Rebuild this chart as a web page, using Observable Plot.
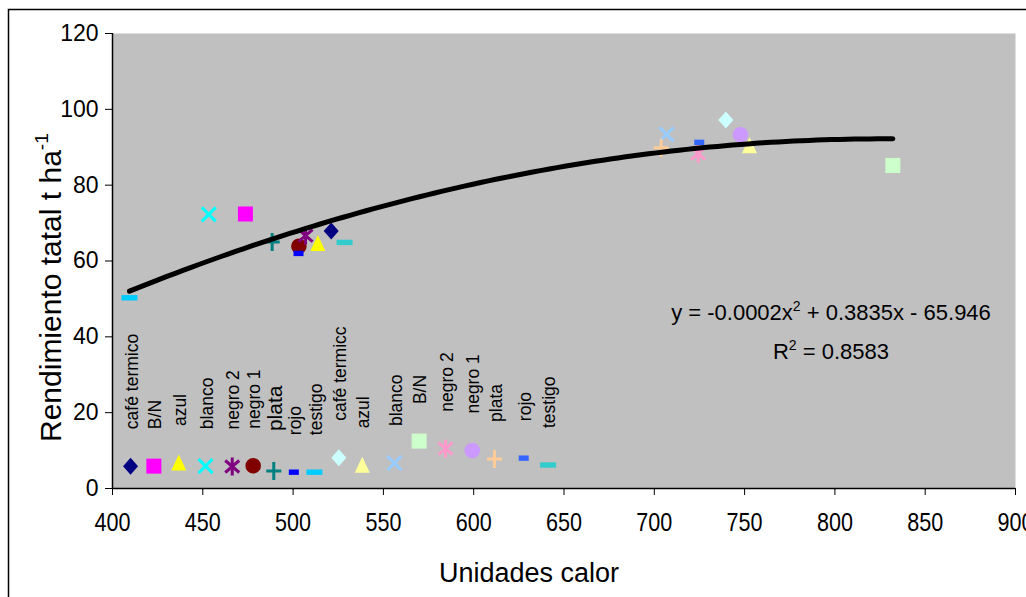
<!DOCTYPE html>
<html>
<head>
<meta charset="utf-8">
<script src="https://cdn.jsdelivr.net/npm/d3@7"></script>
<script src="https://cdn.jsdelivr.net/npm/@observablehq/plot@0.6"></script>
<style>
html,body{margin:0;padding:0;background:#fff;}
#chart{width:1026px;height:597px;overflow:hidden;}
</style>
</head>
<body>
<div id="chart"></div>
<script>
// ---- data ----
const seriesNames = ["café termico","B/N","azul","blanco","negro 2","negro 1","plata","rojo","testigo",
                     "café termicc","azul","blanco","B/N","negro 2","negro 1","plata","rojo","testigo"];
const seriesSymbols = ["diamond","square","triangle","times","asterisk","circle","plus","dashShort","dashLong",
                       "diamond","triangle","times","square","asterisk","circle","plus","dashShort","dashLong"];
const seriesColors = ["#000080","#FF00FF","#FFFF00","#00FFFF","#800080","#800000","#008080","#0000FF","#00CCFF",
                      "#CCFFFF","#FFFF99","#99CCFF","#CCFFCC","#FF99CC","#CC99FF","#FFCC99","#3366FF","#33CCCC"];
// Unidades calor and Rendimiento of each treatment
const heatUnits  = [521.1, 473.6, 513.7, 453.3, 506.9, 503.2, 488.4, 503.0, 409.4,
                    739.6, 752.7, 706.8, 832.1, 724.3, 747.7, 703.8, 724.9, 528.5];
const totalYield = [67.9, 72.4, 64.6, 72.3, 66.7, 63.9, 65.0, 62.0, 50.3,
                    97.2, 90.4, 93.4, 85.2, 88.3, 93.3, 89.9, 91.3, 64.9];
// key markers (with their labels) drawn near the bottom
const keyHeatUnits = [410.0, 422.9, 436.7, 451.5, 466.3, 477.9, 489.3, 500.4, 511.8,
                      525.3, 538.3, 556.1, 569.8, 584.4, 599.2, 611.5, 627.7, 641.2];
const keyYield     = [5.9, 5.9, 6.7, 5.9, 5.8, 6.0, 4.6, 4.3, 4.3,
                      8.1, 6.1, 6.7, 12.5, 10.5, 10.0, 7.8, 8.0, 6.2];
const xTicks = [400, 450, 500, 550, 600, 650, 700, 750, 800, 850, 900];
const yTicks = [0, 20, 40, 60, 80, 100, 120];
const xTitle = "Unidades calor";
const yTitle = "Rendimiento tatal t ha";
const yTitleSup = "-1";
const eqParts = ["y = -0.0002x", "2", " + 0.3835x - 65.946"];
const r2Parts = ["R", "2", " = 0.8583"];

// ---- marker shapes (Excel style) ----
const symbolDefs = {
  diamond:  {fill: true,  draw(c){c.moveTo(0,-8.5);c.lineTo(7.5,0);c.lineTo(0,8.5);c.lineTo(-7.5,0);c.closePath();}},
  square:   {fill: true,  draw(c){c.rect(-7.5,-7.5,15,15);}},
  triangle: {fill: true,  draw(c){c.moveTo(0,-8.5);c.lineTo(7.5,7.5);c.lineTo(-7.5,7.5);c.closePath();}},
  circle:   {fill: true,  draw(c){c.moveTo(7.8,0);c.arc(0,0,7.8,0,2*Math.PI);c.closePath();}},
  times:    {fill: false, draw(c){c.moveTo(-7,-7);c.lineTo(7,7);c.moveTo(7,-7);c.lineTo(-7,7);}},
  asterisk: {fill: false, draw(c){c.moveTo(-7,-6);c.lineTo(7,6);c.moveTo(7,-6);c.lineTo(-7,6);c.moveTo(0,-9);c.lineTo(0,9);}},
  plus:     {fill: false, draw(c){c.moveTo(-7.5,0);c.lineTo(7.5,0);c.moveTo(0,-9);c.lineTo(0,9);}},
  dashShort:{fill: true,  draw(c){c.rect(-5,-2.7,10,5.4);}},
  dashLong: {fill: true,  draw(c){c.rect(-8,-2.7,16,5.4);}}
};

const mainRows = seriesNames.map((name, i) => ({name, sym: seriesSymbols[i], color: seriesColors[i], x: heatUnits[i], y: totalYield[i]}));
const keyRows  = seriesNames.map((name, i) => ({name, sym: seriesSymbols[i], color: seriesColors[i], x: keyHeatUnits[i], y: keyYield[i], idx: i}));
const allRows = mainRows.concat(keyRows);

// ---- quadratic least-squares trendline over the main points ----
function quadFit(xs, ys) {
  const x0 = d3.mean(xs);
  const S = [0,0,0,0,0], T = [0,0,0];
  xs.forEach((xv, i) => {
    const u = (xv - x0) / 100, y = ys[i];
    let p = 1;
    for (let k = 0; k < 5; k++) { S[k] += p; if (k < 3) T[k] += p * y; p *= u; }
  });
  const M = [[S[4],S[3],S[2],T[2]],[S[3],S[2],S[1],T[1]],[S[2],S[1],S[0],T[0]]];
  for (let i = 0; i < 3; i++) {
    for (let j = i + 1; j < 3; j++) {
      const f = M[j][i] / M[i][i];
      for (let k = i; k < 4; k++) M[j][k] -= f * M[i][k];
    }
  }
  const sol = [0,0,0];
  for (let i = 2; i >= 0; i--) {
    let s = M[i][3];
    for (let k = i + 1; k < 3; k++) s -= M[i][k] * sol[k];
    sol[i] = s / M[i][i];
  }
  const [a, b, c] = sol;
  return xv => { const u = (xv - x0) / 100; return a*u*u + b*u + c; };
}
const fit = quadFit(heatUnits, totalYield);
const [xmin, xmax] = d3.extent(heatUnits);
const trend = d3.range(0, 101).map(k => { const xv = xmin + (xmax - xmin) * k / 100; return {x: xv, y: fit(xv)}; });

const FONT = "'Liberation Sans', Arial, sans-serif";

const symMarks = Object.entries(symbolDefs).map(([key, def]) => {
  const rows = allRows.filter(d => d.sym === key);
  return def.fill
    ? Plot.dot(rows, {x: "x", y: "y", symbol: def, fill: "color", stroke: "none"})
    : Plot.dot(rows, {x: "x", y: "y", symbol: def, stroke: "color", fill: "none", strokeWidth: 3});
});

const chart = Plot.plot({
  width: 1026,
  height: 597,
  marginLeft: 112,
  marginRight: 11,
  marginTop: 33,
  marginBottom: 109,
  style: {background: "white", fontFamily: FONT, color: "black", overflow: "visible"},
  x: {domain: [400, 900]},
  y: {domain: [0, 120]},
  color: {type: "identity"},
  marks: [
    Plot.frame({fill: "#C0C0C0", stroke: "none"}),
    ...symMarks,
    Plot.line(trend, {x: "x", y: "y", stroke: "black", strokeWidth: 5, strokeLinecap: "round", curve: "linear"}),
    Plot.text(keyRows.filter(d => d.idx !== 6), {x: "x", y: "y", text: "name", rotate: -90, textAnchor: "start",
      dy: -37, dx: 1.5, fontSize: 17.5, fill: "black", fontFamily: FONT}),
    Plot.text(keyRows.filter(d => d.idx === 6), {x: "x", y: "y", text: "name", rotate: -90, textAnchor: "start",
      dy: -40, dx: 1.5, fontSize: 21, fill: "black", fontFamily: FONT}),
    Plot.axisY({ticks: yTicks, tickSize: 7, tickPadding: 7, label: null, fontSize: 23, fontFamily: FONT}),
    Plot.axisX({ticks: xTicks, tickSize: 7, tickPadding: 18, label: null, fontSize: 25, fontFamily: FONT,
      tickFormat: d => String(d)}),
    Plot.ruleX([400], {stroke: "black", strokeWidth: 1.5}),
    Plot.ruleY([0], {stroke: "black", strokeWidth: 1.5}),
    Plot.text([xTitle], {frameAnchor: "bottom", dx: -35, dy: 93, fontSize: 27, fill: "black", fontFamily: FONT})
  ]
});

const svg = d3.select(chart);
// condensed x tick labels, as in the original
svg.selectAll('[aria-label="x-axis tick label"] text')
  .attr("textLength", 36).attr("lengthAdjust", "spacingAndGlyphs");

// outer chart border
svg.append("rect").attr("x", 8.5).attr("y", 9.5).attr("width", 1100).attr("height", 800)
  .attr("fill", "none").attr("stroke", "black").attr("stroke-width", 1.5);

// y axis title with superscript
const yt = svg.append("text")
  .attr("transform", "translate(61,442) rotate(-90)")
  .attr("text-anchor", "start").attr("font-family", FONT).attr("font-size", 30).attr("fill", "black");
yt.append("tspan").text(yTitle);
yt.append("tspan").attr("font-size", 19).attr("dy", -13).text(yTitleSup);

// trendline equation and R²
function supText(parts, x, y) {
  const t = svg.append("text").attr("x", x).attr("y", y).attr("text-anchor", "middle")
    .attr("font-family", FONT).attr("font-size", 22).attr("fill", "black");
  t.append("tspan").text(parts[0]);
  t.append("tspan").attr("font-size", 14).attr("dy", -9).text(parts[1]);
  t.append("tspan").attr("dy", 9).text(parts[2]);
}
supText(eqParts, 831, 320);
supText(r2Parts, 831, 359);

document.getElementById("chart").appendChild(chart);
</script>
</body>
</html>
